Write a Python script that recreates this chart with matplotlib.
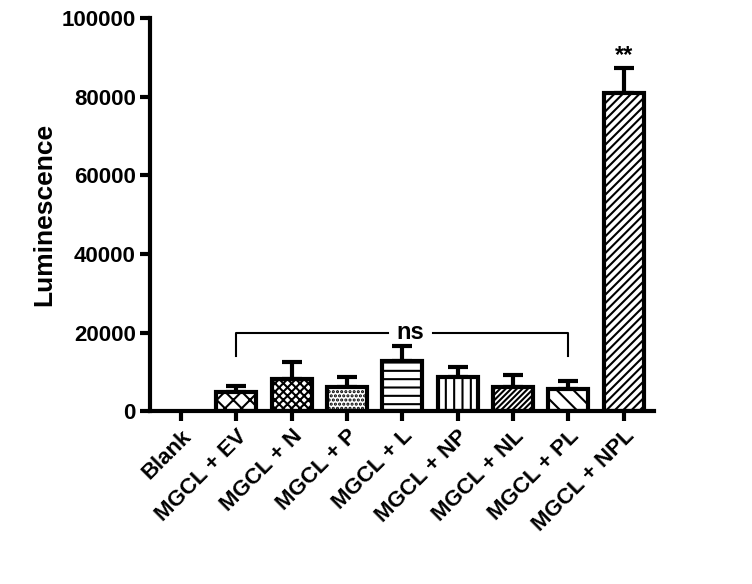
import matplotlib
matplotlib.use("Agg")
import matplotlib.pyplot as plt
import numpy as np

categories = ["Blank", "MGCL + EV", "MGCL + N", "MGCL + P", "MGCL + L",
              "MGCL + NP", "MGCL + NL", "MGCL + PL", "MGCL + NPL"]
means = [0, 4800, 8300, 6200, 12700, 8800, 6200, 5700, 81000]
errors = [0, 1700, 4200, 2400, 3900, 2500, 3100, 2000, 6200]
hatches = ["", "xx", "xxxx", "....", "--", "||", "//////", "\\\\", "////"]

plt.rcParams["font.family"] = "Liberation Sans"
plt.rcParams["hatch.linewidth"] = 1.5
fig = plt.figure(figsize=(7.52, 5.84), dpi=100)
ax = fig.add_axes([0.2, 0.296, 0.67, 0.673])
x = np.arange(len(categories))
for i in range(len(categories)):
    if means[i] > 0:
        ax.bar(x[i], means[i], width=0.72, color="white", edgecolor="black",
               linewidth=3, hatch=hatches[i], zorder=2)
        ax.errorbar(x[i], means[i], yerr=[[0], [errors[i]]], color="black",
                    capsize=7, capthick=3, elinewidth=3, zorder=1)
ax.set_xlim(-0.55, 8.55)
ax.set_ylim(0, 100000)
ax.set_yticks(range(0, 100001, 20000))
ax.set_xticks(x)
ax.set_xticklabels(categories, rotation=45, ha="right", rotation_mode="anchor",
                   fontsize=16, fontweight="bold")
for lab in ax.get_yticklabels():
    lab.set_fontsize(16); lab.set_fontweight("bold")
ax.set_ylabel("Luminescence", fontsize=19, fontweight="bold")
for s in ["top", "right"]:
    ax.spines[s].set_visible(False)
for s in ["left", "bottom"]:
    ax.spines[s].set_linewidth(3)
ax.tick_params(width=3, length=7)

# significance bracket
ax.plot([1, 1, 3.75], [14000, 20000, 20000], color="black", lw=1.5)
ax.plot([4.55, 7, 7], [20000, 20000, 14000], color="black", lw=1.5)
ax.text(4.15, 20000, "ns", ha="center", va="center", fontsize=17, fontweight="bold")
ax.text(8, 87500, "**", ha="center", va="bottom", fontsize=17, fontweight="bold")

fig.savefig("out.png", dpi=100)
